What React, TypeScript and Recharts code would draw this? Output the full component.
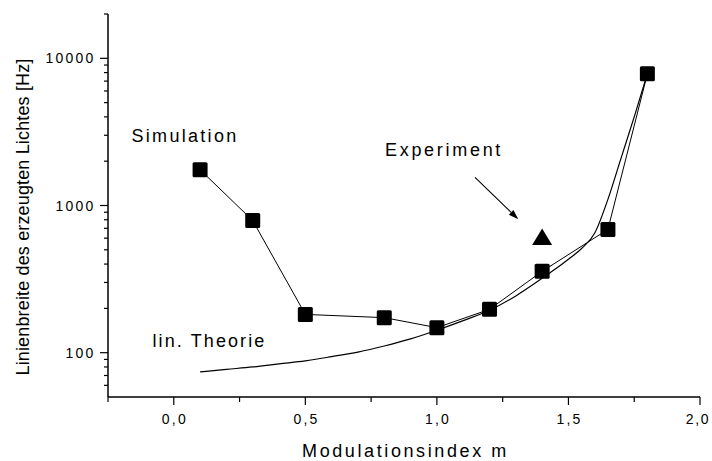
import React from 'react';
import { LineChart, Line, XAxis, YAxis, Customized } from 'recharts';

// ---- data ----
const simX = [0.1, 0.3, 0.5, 0.8, 1.0, 1.2, 1.4, 1.65, 1.8];
const simY = [1750, 790, 182, 173, 148, 197, 357, 688, 7850];

const expX = [1.4];
const expY = [610];

const theoryX = [0.1, 0.2, 0.3, 0.4, 0.5, 0.6, 0.7, 0.8, 0.9, 1.0, 1.1, 1.2, 1.3, 1.4, 1.45, 1.5, 1.55, 1.6, 1.65, 1.7, 1.75, 1.8];
const theoryY = [74, 77, 80, 84, 88, 94, 101, 111, 124, 142, 165, 194, 243, 320, 370, 432, 510, 650, 1100, 2100, 4000, 7850];

const xTicks = [-0.25, 0, 0.25, 0.5, 0.75, 1.0, 1.25, 1.5, 1.75, 2.0];
const xMajor = [0, 0.5, 1.0, 1.5, 2.0];
const yTicks = [60, 70, 80, 90, 100, 200, 300, 400, 500, 600, 700, 800, 900, 1000, 2000, 3000, 4000, 5000, 6000, 7000, 8000, 9000, 10000, 20000];
const yMajor = [100, 1000, 10000];

const simData = simX.map((x, i) => ({ x, y: simY[i] }));
const expData = expX.map((x, i) => ({ x, y: expY[i] }));
const theoryData = theoryX.map((x, i) => ({ x, y: theoryY[i] }));

const FONT = '"Liberation Sans", Arial, sans-serif';

const XTick = (props: any) => {
  const { x, y, payload } = props;
  const v = payload.value as number;
  const major = xMajor.some((m) => Math.abs(m - v) < 1e-9);
  const last = Math.abs(v - 2.0) < 1e-9;
  return (
    <g>
      <line x1={x} x2={x} y1={y} y2={y + (major ? 8 : 5)} stroke="#000" strokeWidth={1.2} />
      {major && (
        <text
          x={last ? Math.min(x + 1.1, 698) : x + 1.1}
          y={y + 26.5}
          textAnchor="middle"
          fontFamily={FONT}
          fontSize={14}
          letterSpacing={last ? 1.6 : 2.2}
          fill="#000"
        >
          {v.toFixed(1).replace('.', ',')}
        </text>
      )}
    </g>
  );
};

const YTick = (props: any) => {
  const { x, y, payload } = props;
  const v = payload.value as number;
  const major = yMajor.includes(v);
  return (
    <g>
      <line x1={x - (major ? 8 : 4)} x2={x} y1={y} y2={y} stroke="#000" strokeWidth={1.2} />
      {major && (
        <text x={x - 12.5} y={y + 5} textAnchor="end" fontFamily={FONT} fontSize={14} letterSpacing={2.2} fill="#000">
          {String(v)}
        </text>
      )}
    </g>
  );
};

const SquareDot = (props: any) => {
  const { cx, cy, index } = props;
  if (cx == null || cy == null) return <g key={index} />;
  return <rect key={index} x={cx - 7.5} y={cy - 7.5} width={15} height={15} rx={1.5} fill="#000" />;
};

const TriangleDot = (props: any) => {
  const { cx, cy, index } = props;
  if (cx == null || cy == null) return <g key={index} />;
  const pts = `${cx},${cy - 8.5} ${cx + 10},${cy + 8} ${cx - 10},${cy + 8}`;
  return <polygon key={index} points={pts} fill="#000" />;
};

const Annotations = () => {
  const x1 = 475, y1 = 177.3, x2 = 518.3, y2 = 219.3;
  const len = Math.hypot(x2 - x1, y2 - y1);
  const ux = (x2 - x1) / len, uy = (y2 - y1) / len;
  const bx = x2 - 10 * ux, by = y2 - 10 * uy;
  const nx = -uy, ny = ux;
  const head = `${x2},${y2} ${bx + 3.3 * nx},${by + 3.3 * ny} ${bx - 3.3 * nx},${by - 3.3 * ny}`;
  const common = { fontFamily: FONT, fill: '#000' };
  return (
    <g>
      <text x={131.5} y={141.7} fontSize={18} letterSpacing={2.3} {...common}>Simulation</text>
      <text x={385} y={156} fontSize={18} letterSpacing={2.7} {...common}>Experiment</text>
      <text x={152.5} y={346.7} fontSize={18} letterSpacing={2.1} {...common}>lin. Theorie</text>
      <line x1={x1} y1={y1} x2={bx} y2={by} stroke="#000" strokeWidth={1.1} />
      <polygon points={head} fill="#000" />
      <text x={405.5} y={456.5} textAnchor="middle" fontSize={18} letterSpacing={2.6} {...common}>Modulationsindex m</text>
      <text
        x={0}
        y={0}
        transform="translate(29,217) rotate(-90)"
        textAnchor="middle"
        fontSize={18}
        letterSpacing={0.15}
        {...common}
      >
        Linienbreite des erzeugten Lichtes [Hz]
      </text>
    </g>
  );
};

export default function App() {
  return (
    <div style={{ position: 'absolute', left: 0, top: 0, width: 712, height: 461, background: '#fff' }}>
      <LineChart width={712} height={461} margin={{ top: 14, right: 12, left: 0, bottom: 0 }}>
        <XAxis
          type="number"
          dataKey="x"
          domain={[-0.25, 2.0]}
          ticks={xTicks}
          interval={0}
          allowDataOverflow
          height={64}
          tickLine={false}
          tickSize={0}
          tickMargin={0}
          tick={<XTick />}
          axisLine={{ stroke: '#000', strokeWidth: 1.5 }}
        />
        <YAxis
          type="number"
          dataKey="y"
          scale="log"
          domain={[50, 20000]}
          ticks={yTicks}
          interval={0}
          allowDataOverflow
          width={108}
          tickLine={false}
          tickSize={0}
          tickMargin={0}
          tick={<YTick />}
          axisLine={{ stroke: '#000', strokeWidth: 1.5 }}
        />
        <Line
          data={theoryData}
          dataKey="y"
          type="monotone"
          stroke="#000"
          strokeWidth={1.2}
          dot={false}
          activeDot={false}
          isAnimationActive={false}
        />
        <Line
          data={simData}
          dataKey="y"
          type="linear"
          stroke="#000"
          strokeWidth={1}
          dot={SquareDot}
          activeDot={false}
          isAnimationActive={false}
        />
        <Line
          data={expData}
          dataKey="y"
          type="linear"
          stroke="none"
          dot={TriangleDot}
          activeDot={false}
          isAnimationActive={false}
        />
        <Customized component={Annotations} />
      </LineChart>
    </div>
  );
}
